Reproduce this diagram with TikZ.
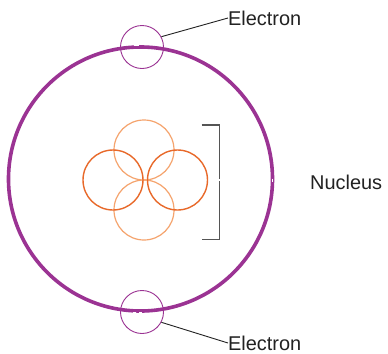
\documentclass[tikz,border=0pt]{standalone}
\usepackage{fontspec}
\setmainfont{Liberation Sans}
\usetikzlibrary{calc}
\definecolor{orbit}{HTML}{9B3393}
\definecolor{nucdark}{HTML}{E8692A}
\definecolor{nuclight}{HTML}{F5A46E}
\definecolor{brack}{HTML}{555555}
\definecolor{ink}{HTML}{222222}
\begin{document}
\begin{tikzpicture}[x=1bp,y=1bp,
  orbitline/.style={draw=orbit,line width=3.6bp},
  shell/.style={circle,draw=orbit,line width=0.9bp,minimum size=43bp,inner sep=0pt},
  proton/.style={draw=nucdark,line width=1.4bp},
  neutron/.style={draw=nuclight,line width=1.2bp},
  tag/.style={font=\fontsize{20}{24}\selectfont,text=ink,inner sep=0pt,anchor=west},
  leader/.style={draw=ink,line width=0.9bp},
  bracketline/.style={draw=brack,line width=1.6bp}]
\useasboundingbox (0,0) rectangle (388,-354);
\fill[white] (0,0) rectangle (388,-354);

% nucleus: two neutrons (light) and two protons (dark)
\coordinate (nuc) at (145,-180);
\draw[neutron] ($(nuc)+(-1,30)$) circle (30bp);
\draw[neutron] ($(nuc)+(-1,-30)$) circle (30bp);
\draw[proton] ($(nuc)+(-32,0)$) circle (30bp);
\draw[proton] ($(nuc)+(32.5,0)$) circle (30bp);

% orbit
\coordinate (atom) at (140.5,-179);
\draw[orbitline] (atom) circle (132bp);
\draw[white,line width=1.2bp] (272.5,-178.5) -- (272.5,-181.5);
\draw[white,line width=1.4bp] (134,-45.5) -- (138.5,-45.5);
\draw[white,line width=1.4bp] (132.5,-313) -- (135.5,-313);
\draw[white,line width=1.4bp] (139,-313) -- (142,-313);

% electrons
\node[shell] (etop) at (142,-47) {};
\node[shell] (ebot) at (142,-312) {};

% labels
\node[tag] (ltop) at (228,-18) {Electron};
\node[tag] (lbot) at (228,-343) {Electron};
\node[tag] (lnuc) at (310,-182) {Nucleus};

\draw[leader] (etop.28) -- (ltop.west);
\draw[leader] (ebot.-28) -- (lbot.west);

% bracket around the nucleus
\coordinate (bt) at (219.5,-125);
\coordinate (bb) at (219.5,-239.5);
\draw[bracketline] (201.5,-125) -- (bt) -- (bb) -- (201.5,-239.5);
\draw[white,line width=1bp] (219.5,-179.3) -- (219.5,-180.7);
\end{tikzpicture}
\end{document}
